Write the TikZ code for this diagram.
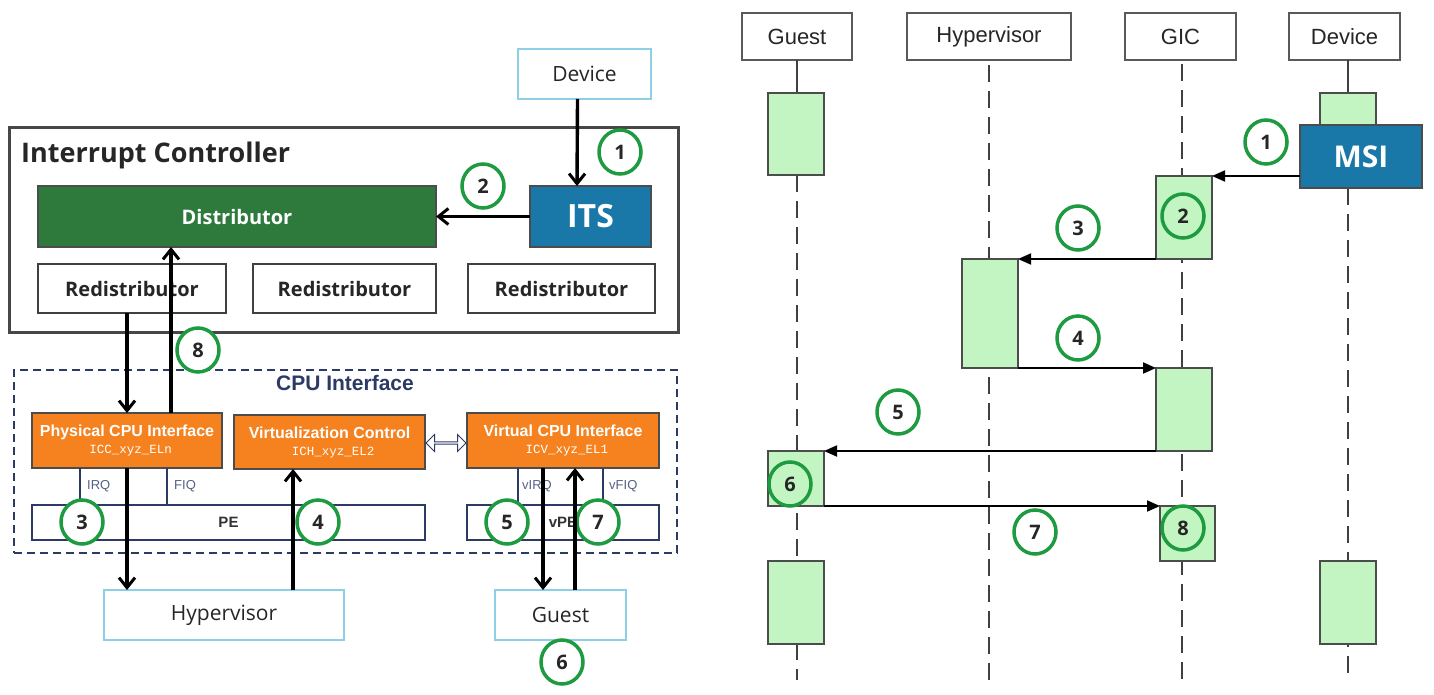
\documentclass[tikz,border=0pt]{standalone}
\usepackage{fontspec}
\setmainfont{Open Sans}
\newfontfamily\arial{Liberation Sans}
\newfontfamily\cour{Liberation Mono}
\usetikzlibrary{arrows.meta,shapes.arrows,shapes.geometric}
\definecolor{dgreen}{HTML}{2E7A3C}
\definecolor{itsblue}{HTML}{1A78A8}
\definecolor{orng}{HTML}{F5821F}
\definecolor{lblue}{HTML}{8CCFE6}
\definecolor{navy}{HTML}{2C3A66}
\definecolor{actgreen}{HTML}{C2F5C2}
\definecolor{cgreen}{HTML}{1E9A40}
\newcommand{\fs}[1]{\fontsize{#1}{#1}\selectfont}
\tikzset{
  base/.style={rectangle, inner sep=0pt, outer sep=0pt},
  lbox/.style={base, draw=lblue, line width=1.5pt, fill=white, font=\fs{21}, text=black!85},
  grbox/.style={base, draw=black!75, line width=2.5pt, fill=white, font=\fs{20}\bfseries, text=black!85},
  orbox/.style={base, draw=black!70, line width=1.5pt, fill=orng, text=white, align=center, font=\fs{16}},
  pebox/.style={base, draw=navy, line width=1.5pt, fill=white, font=\arial\fs{15}\bfseries, text=black!80},
  num/.style={ellipse, draw=cgreen, line width=3.5pt, minimum width=42pt, minimum height=44pt, inner sep=0pt, font=\fs{20}\bfseries, text=black!85},
  wnum/.style={num, fill=white},
  arr/.style={line width=3.4pt, -{Straight Barb[length=10pt,width=16pt,line width=3pt]}},
  sig/.style={navy, line width=1.3pt},
  hdr/.style={base, draw=black!65, line width=1.8pt, fill=white, font=\arial\fs{22}, text=black!85},
  act/.style={base, draw=black!70, line width=1.5pt, fill=actgreen},
  life/.style={line width=1.6pt, draw=black!75, dash pattern=on 17pt off 9pt},
  msg/.style={line width=1.8pt, -{Triangle[length=13pt,width=11pt]}}
}
\begin{document}
\begin{tikzpicture}[x=1pt,y=-1pt]
\useasboundingbox (0,0) rectangle (1434,695);
\fill[white] (0,0) rectangle (1434,695);
% ---------------- left diagram ----------------
\node[lbox, minimum width=133pt, minimum height=50pt] (dev) at (584.5,74) {Device};
\node[base, draw=black!72, line width=3pt, minimum width=669pt, minimum height=204pt] (ic) at (343.5,230) {};
\node[anchor=west, inner sep=0pt, font=\fs{27}\bfseries, text=black!85] (ictitle) at (21,155) {Interrupt Controller};
\node[base, draw=black!70, line width=2pt, fill=dgreen, text=white, font=\fs{20}\bfseries, minimum width=398pt, minimum height=61pt] (dist) at (237,216.5) {Distributor};
\node[base, draw=black!70, line width=2pt, fill=itsblue, text=white, font=\fs{32}\bfseries, minimum width=121pt, minimum height=61pt] (its) at (590.5,216.5) {ITS};
\node[grbox, minimum width=188pt, minimum height=49pt] (red1) at (132,288.5) {Redistributor};
\node[grbox, minimum width=183pt, minimum height=49pt] (red2) at (344.5,288.5) {Redistributor};
\node[grbox, minimum width=187pt, minimum height=49pt] (red3) at (561.5,288.5) {Redistributor};
% CPU interface
\node[base, draw=navy, line width=2.2pt, dash pattern=on 8pt off 5pt, minimum width=663pt, minimum height=183pt] (cpu) at (345.5,461.5) {};
\node[inner sep=0pt, font=\arial\fs{21}\bfseries, text=navy] (cputitle) at (345,383) {CPU Interface};
\node[orbox, minimum width=190pt, minimum height=55pt] (phys) at (127,440.5) {{\arial\bfseries Physical CPU Interface}\\[1pt]{\cour\fs{12.5} ICC\_xyz\_ELn}};
\node[orbox, minimum width=191pt, minimum height=54pt] (vc) at (329.5,442) {{\arial\bfseries Virtualization Control}\\[1pt]{\cour\fs{12.5} ICH\_xyz\_EL2}};
\node[orbox, minimum width=192pt, minimum height=55pt] (vcpu) at (563,440.5) {{\arial\bfseries Virtual CPU Interface}\\[1pt]{\cour\fs{12.5} ICV\_xyz\_EL1}};
\node[double arrow, draw=navy, fill=white, line width=1pt, minimum height=40pt, minimum width=17pt, double arrow head extend=3pt, inner sep=0pt] (dbl) at (446,443) {};
\node[pebox, minimum width=393pt, minimum height=35pt] (pe) at (228.5,522.5) {PE};
\node[pebox, minimum width=192pt, minimum height=35pt] (vpe) at (563,522.5) {vPE};
% IRQ/FIQ lines
\draw[sig] ([xshift=-47pt]phys.south) -- ([xshift=-47pt]phys.south |- pe.north);
\draw[sig] ([xshift=40pt]phys.south) -- ([xshift=40pt]phys.south |- pe.north);
\draw[sig] ([xshift=-45pt]vcpu.south) -- ([xshift=-45pt]vcpu.south |- vpe.north);
\draw[sig] ([xshift=40pt]vcpu.south) -- ([xshift=40pt]vcpu.south |- vpe.north);
\node[anchor=west, inner sep=0pt, font=\arial\fs{13}, text=navy!80] (irq) at (87,486) {IRQ};
\node[anchor=west, inner sep=0pt, font=\arial\fs{13}, text=navy!80] (fiq) at (174,486) {FIQ};
\node[anchor=west, inner sep=0pt, font=\arial\fs{13}, text=navy!80] (virq) at (522,486) {vIRQ};
\node[anchor=west, inner sep=0pt, font=\arial\fs{13}, text=navy!80] (vfiq) at (609,486) {vFIQ};
\node[lbox, minimum width=240pt, minimum height=50pt] (hyp) at (224,615) {Hypervisor};
\node[lbox, minimum width=131pt, minimum height=50pt] (guest) at (560.5,615) {Guest};
% numbers (left)
\node[wnum] (n1) at (620,152) {1};
\node[wnum] (n2) at (483,186) {2};
\node[wnum] (n8) at (198,350) {8};
\node[wnum] (n3) at (82,522) {3};
\node[wnum] (n4) at (318,522) {4};
\node[wnum] (n5) at (507,522) {5};
\node[wnum] (n7) at (598,522) {7};
\node[wnum] (n6) at (562,662) {6};
% arrows
\draw[arr] ([xshift=-7pt]dev.south) -- ([xshift=-13.5pt]its.north);
\draw[arr] (its.west) -- (dist.east);
\draw[arr] ([xshift=-5pt]red1.south) -- (phys.north);
\draw[arr] ([xshift=44pt]phys.north) -- ([xshift=-66pt]dist.south);
\draw[arr] (phys.south) -- (phys.south |- hyp.north);
\draw[arr] ([xshift=69pt]hyp.north) -- ([xshift=-36.5pt]vc.south);
\draw[arr] ([xshift=-20pt]vcpu.south) -- ([xshift=-17.5pt]guest.north);
\draw[arr] ([xshift=14.5pt]guest.north) -- ([xshift=12pt]vcpu.south);
% ---------------- right diagram ----------------
\node[hdr, minimum width=110pt, minimum height=47pt] (hg) at (797,36.5) {Guest};
\node[hdr, minimum width=164pt, minimum height=47pt] (hh) at (989,36.5) {Hypervisor};
\node[hdr, minimum width=111pt, minimum height=47pt] (hc) at (1180.5,36.5) {GIC};
\node[hdr, minimum width=111pt, minimum height=47pt] (hd) at (1344.5,36.5) {Device};
\coordinate (lg) at (797,680);
\coordinate (lh) at (989,680);
\coordinate (lc) at (1182,680);
\coordinate (ld) at (1348,680);
\draw[line width=1.6pt, draw=black!75] (hg.south) -- (797,93);
\draw[life] (797,175) -- (lg);
\draw[life] (989,65) -- (lh);
\draw[life] (1182,64) -- (lc);
\draw[line width=1.6pt, draw=black!75] (1348,60) -- (1348,93);
\draw[life] (1348,188) -- (ld);
% activations
\node[act, minimum width=56pt, minimum height=82pt] (ga1) at (796,134) {};
\node[act, minimum width=56pt, minimum height=32pt] (da1) at (1348,109) {};
\node[base, draw=black!70, line width=2pt, fill=itsblue, text=white, font=\fs{30}\bfseries, minimum width=122pt, minimum height=63pt] (msi) at (1361,156.5) {MSI};
\node[act, minimum width=56pt, minimum height=83pt] (gic1) at (1184,217.5) {};
\node[act, minimum width=56pt, minimum height=109pt] (hyp1) at (990,313.5) {};
\node[act, minimum width=56pt, minimum height=83pt] (gic2) at (1184,409.5) {};
\node[act, minimum width=56pt, minimum height=55pt] (ga2) at (796,478.5) {};
\node[act, minimum width=55pt, minimum height=55pt] (gic3) at (1187.5,533.5) {};
\node[act, minimum width=56pt, minimum height=83pt] (ga3) at (796,602.5) {};
\node[act, minimum width=56pt, minimum height=83pt] (da2) at (1348,602.5) {};
% messages
\draw[msg] ([yshift=-19.5pt]msi.west) -- (gic1.north east);
\draw[msg] (gic1.south west) -- (hyp1.north east);
\draw[msg] (hyp1.south east) -- (gic2.north west);
\draw[msg] (gic2.south west) -- (ga2.north east);
\draw[msg] (ga2.south east) -- (gic3.north west);
% numbers
\node[num] (m1) at (1266,142) {1};
\node[num] (m2) at (1183,216) {2};
\node[num] (m3) at (1078,228) {3};
\node[num] (m4) at (1078,338) {4};
\node[num] (m5) at (898,412) {5};
\node[num] (m6) at (790,484) {6};
\node[num] (m7) at (1035,532) {7};
\node[num] (m8) at (1183,528) {8};
\end{tikzpicture}
\end{document}
